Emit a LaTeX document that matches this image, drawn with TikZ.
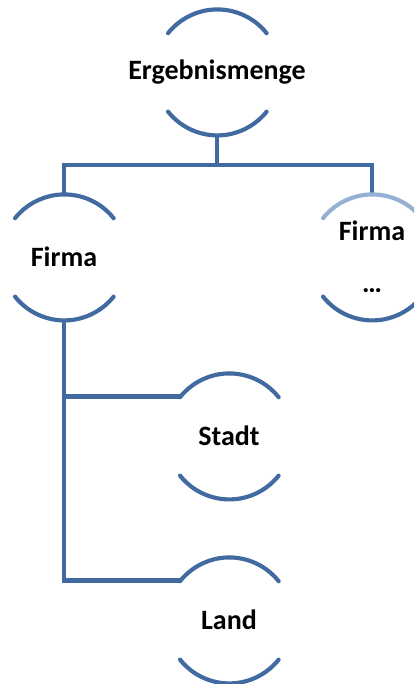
\documentclass[tikz,border=0pt]{standalone}
\usepackage{fontspec}
\setmainfont{Carlito}
\definecolor{arcblue}{RGB}{64,106,160}
\definecolor{arcpale}{RGB}{148,176,210}
\begin{document}
\begin{tikzpicture}[x=0.75pt,y=0.75pt,
  unit/.style={circle,minimum size=94.5pt,inner sep=0pt,outer sep=0pt,
    font=\fontsize{21}{25}\selectfont\bfseries,text=black,align=center},
  rim/.style={draw=arcblue,line width=3.1pt,line cap=round},
  link/.style={draw=arcblue,line width=3.4pt,line join=miter}]
\clip (0,0) rectangle (414,684);

% hierarchy units (circle outline shown only as top and bottom arcs);
% wide labels are boxed at zero width so every circle keeps one size
\node[unit] (E)  at (217,612) {\makebox[0pt][c]{Ergebnismenge}};
\node[unit] (F1) at (64,427)  {Firma};
\node[unit] (F2) at (372,427) {Firma\\[14pt]…};
\node[unit] (S)  at (229,248) {Stadt};
\node[unit] (L)  at (229,64)  {Land};

% connectors
\coordinate (bus) at (217,519);
\draw[link] (E.south) -- (bus);
\draw[link] (F1.north) |- (bus) -| (F2.north);
\draw[link] (F1.south) |- (L.141.5);
\draw[link] (F1.south |- S.141.5) -- (S.141.5);

% arcs of each unit
\foreach \n in {E,F1,S,L}{
  \draw[rim] (\n.38.5) arc[start angle=38.5,end angle=141.5,radius=63];
  \draw[rim] (\n.-141.5) arc[start angle=-141.5,end angle=-38.5,radius=63];
}
\draw[rim,draw=arcpale] (F2.38.5) arc[start angle=38.5,end angle=141.5,radius=63];
\draw[rim] (F2.-141.5) arc[start angle=-141.5,end angle=-38.5,radius=63];
\end{tikzpicture}
\end{document}
